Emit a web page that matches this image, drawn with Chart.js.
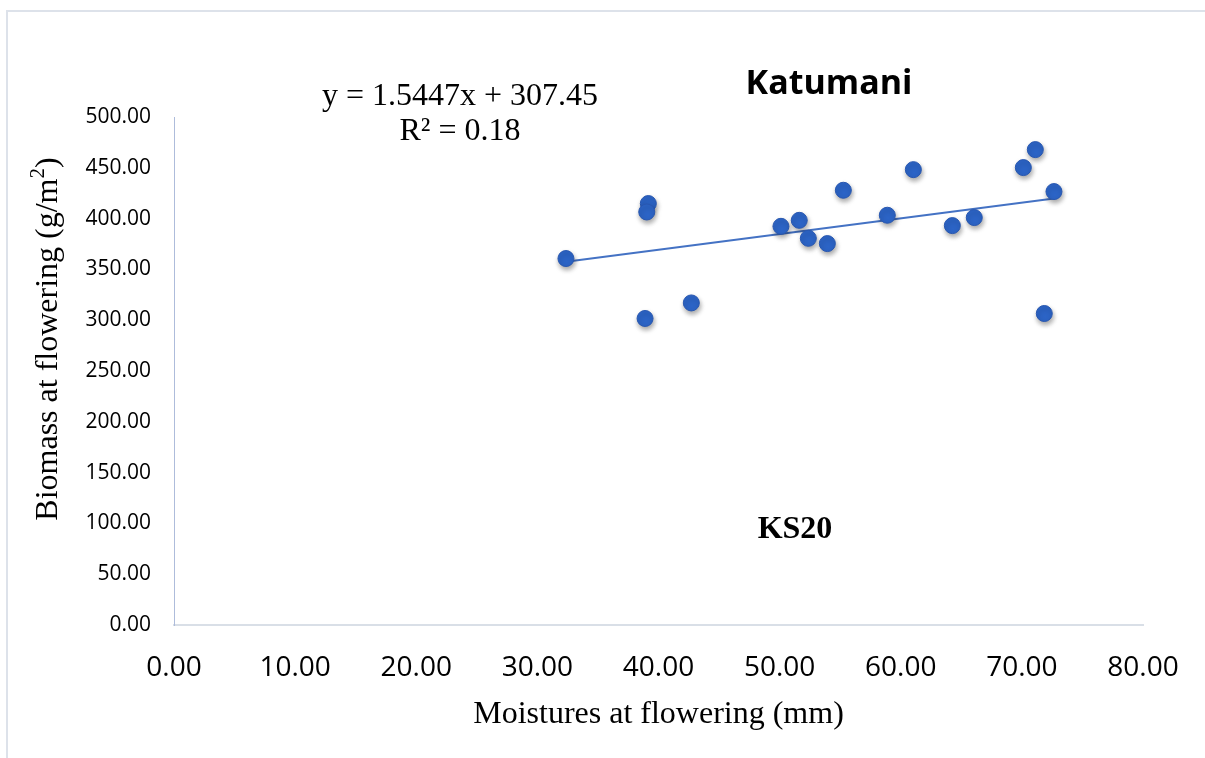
<!DOCTYPE html>
<html>
<head>
<meta charset="utf-8">
<title>Katumani – KS20</title>
<script src="https://cdn.jsdelivr.net/npm/chart.js@4.4.1/dist/chart.umd.min.js"></script>
<style>
  html, body { margin: 0; padding: 0; background: #ffffff; }
  #wrap { width: 1205px; height: 758px; position: relative; }
  canvas { display: block; }
</style>
</head>
<body>
<div id="wrap"><canvas id="chart" width="1205" height="758"></canvas></div>
<script>
// Soil moisture at flowering (mm) and above-ground biomass at flowering (g/m²), KS20 at Katumani
const moisture = [32.36, 39.16, 39.03, 38.89, 42.71, 50.11, 51.62, 52.37, 53.94,
                  55.26, 58.89, 61.04, 64.26, 66.07, 70.12, 71.11, 71.85, 72.65];
const biomass  = [360.7, 414.8, 406.5, 301.7, 317.0, 392.4, 398.3, 380.6, 375.4,
                  427.9, 403.3, 448.2, 393.1, 401.0, 450.2, 467.9, 306.6, 426.6];

// Linear fit reported on the chart
const slope = 1.5447;
const intercept = 307.45;
const rSquared = 0.18;

// Axis ranges and steps
const xTicks = { min: 0, max: 80, step: 10 };
const yTicks = { min: 0, max: 500, step: 50 };

const points = moisture.map((x, i) => ({ x: x, y: biomass[i] }));
const xLo = Math.min(...moisture);
const xHi = Math.max(...moisture);
const trend = [
  { x: xLo, y: slope * xLo + intercept },
  { x: xHi, y: slope * xHi + intercept }
];

const equationText = 'y = ' + slope.toFixed(4) + 'x + ' + intercept.toFixed(2);
const rText = 'R² = ' + rSquared.toFixed(2);

const serif = '"Liberation Serif", "Times New Roman", serif';

// Soft drop shadow under the markers
const markerShadow = {
  id: 'markerShadow',
  beforeDatasetDraw(chart, args) {
    if (args.index !== 0) return;
    const ctx = chart.ctx;
    ctx.save();
    ctx.shadowColor = 'rgba(0,0,0,0.35)';
    ctx.shadowBlur = 5;
    ctx.shadowOffsetX = 1;
    ctx.shadowOffsetY = 3;
  },
  afterDatasetDraw(chart, args) {
    if (args.index !== 0) return;
    chart.ctx.restore();
  }
};

// Rotated y-axis title with a true superscript in the unit
function drawYTitle(ctx, cx, cy) {
  const main = 'Biomass at flowering (g/m';
  const sup = '2';
  const tail = ')';
  ctx.save();
  ctx.translate(cx, cy);
  ctx.rotate(-Math.PI / 2);
  ctx.textBaseline = 'middle';
  ctx.textAlign = 'left';
  ctx.font = '32px ' + serif;
  const wMain = ctx.measureText(main).width;
  const wTail = ctx.measureText(tail).width;
  ctx.font = '21px ' + serif;
  const wSup = ctx.measureText(sup).width;
  let x = -(wMain + wSup + wTail) / 2;
  ctx.font = '32px ' + serif;
  ctx.fillText(main, x, 0);
  x += wMain;
  ctx.font = '21px ' + serif;
  ctx.fillText(sup, x, -11);
  x += wSup;
  ctx.font = '32px ' + serif;
  ctx.fillText(tail, x, 0);
  ctx.restore();
}

// Outer frame and text annotations (title, fit equation, variety label, y title)
const annotations = {
  id: 'annotations',
  beforeDraw(chart) {
    const ctx = chart.ctx;
    ctx.save();
    ctx.strokeStyle = '#dde2ea';
    ctx.lineWidth = 2;
    ctx.beginPath();
    ctx.moveTo(7, 760);
    ctx.lineTo(7, 11);
    ctx.lineTo(1206, 11);
    ctx.stroke();
    ctx.restore();
  },
  afterDraw(chart) {
    const ctx = chart.ctx;
    ctx.save();
    ctx.fillStyle = '#000000';
    ctx.textAlign = 'center';
    ctx.textBaseline = 'alphabetic';

    ctx.font = 'bold 34px "Open Sans", sans-serif';
    ctx.fillText('Katumani', 829, 94);

    ctx.font = '32px ' + serif;
    ctx.fillText(equationText, 460, 105);
    ctx.fillText(rText, 460, 140);

    ctx.font = 'bold 32px ' + serif;
    ctx.fillText('KS20', 795, 538);
    ctx.restore();

    ctx.save();
    ctx.fillStyle = '#000000';
    drawYTitle(ctx, 49, 339);
    ctx.restore();
  }
};

new Chart(document.getElementById('chart'), {
  type: 'scatter',
  data: {
    datasets: [
      {
        label: 'Biomass',
        data: points,
        backgroundColor: '#2c64c6',
        borderColor: '#2857b0',
        borderWidth: 1,
        pointRadius: 8,
        pointHoverRadius: 8,
        order: 1
      },
      {
        label: 'Linear fit',
        type: 'line',
        data: trend,
        borderColor: '#4472c4',
        borderWidth: 2,
        pointRadius: 0,
        fill: false,
        tension: 0,
        order: 2
      }
    ]
  },
  options: {
    responsive: false,
    animation: false,
    events: [],
    layout: { padding: { top: 117, right: 62, bottom: 0, left: 0 } },
    plugins: {
      legend: { display: false },
      title: { display: false },
      tooltip: { enabled: false }
    },
    scales: {
      x: {
        type: 'linear',
        min: xTicks.min,
        max: xTicks.max,
        afterFit(scale) { scale.height = 133; },
        grid: { display: true, drawOnChartArea: false, drawTicks: false, color: 'rgba(0,0,0,0)' },
        border: { display: true, color: '#d9dfe7', width: 2 },
        ticks: {
          stepSize: xTicks.step,
          padding: 26,
          color: '#000000',
          font: { family: '"Open Sans", sans-serif', size: 28 },
          callback: v => Number(v).toFixed(2)
        },
        title: {
          display: true,
          text: 'Moistures at flowering (mm)',
          color: '#000000',
          font: { family: serif, size: 32 },
          padding: { top: 0, bottom: 24 }
        }
      },
      y: {
        type: 'linear',
        min: yTicks.min,
        max: yTicks.max,
        afterFit(scale) { scale.width = 174; },
        grid: { display: true, drawOnChartArea: false, drawTicks: false, color: 'rgba(0,0,0,0)' },
        border: { display: true, color: '#aebcdb', width: 1 },
        ticks: {
          stepSize: yTicks.step,
          padding: 23,
          color: '#000000',
          font: { family: '"Open Sans", sans-serif', size: 21 },
          callback: v => Number(v).toFixed(2)
        },
        title: { display: false }
      }
    }
  },
  plugins: [markerShadow, annotations]
});
</script>
</body>
</html>
